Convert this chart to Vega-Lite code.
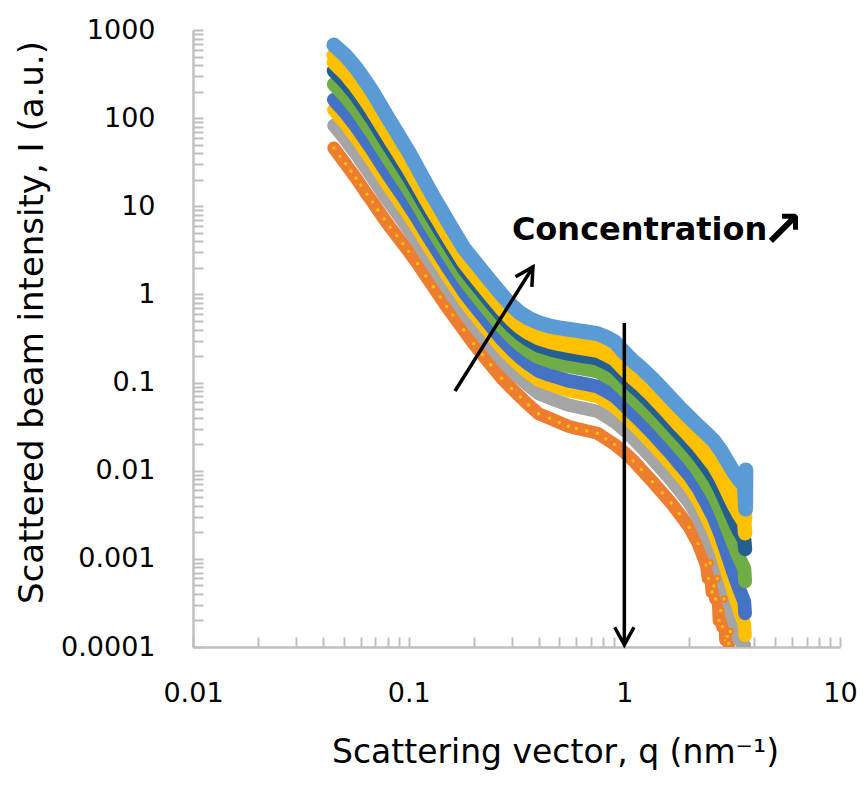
{
  "$schema": "https://vega.github.io/schema/vega-lite/v6.json",
  "width": 647,
  "height": 617,
  "autosize": {"type": "none"},
  "padding": {"left": 193, "top": 30, "right": 24, "bottom": 138},
  "background": "white",
  "config": {"view": {"stroke": null}},
  "datasets": {
    "series": [
      {"c":"c1","q":0.045,"I":45.8},{"c":"c1","q":0.048,"I":37.0},{"c":"c1","q":0.051,"I":30.3},{"c":"c1","q":0.054,"I":25.0},{"c":"c1","q":0.057,"I":20.9},{"c":"c1","q":0.06,"I":17.4},{"c":"c1","q":0.064,"I":13.7},{"c":"c1","q":0.068,"I":11.2},{"c":"c1","q":0.072,"I":9.10},{"c":"c1","q":0.077,"I":7.19},{"c":"c1","q":0.082,"I":5.80},{"c":"c1","q":0.088,"I":4.64},{"c":"c1","q":0.094,"I":3.75},{"c":"c1","q":0.1,"I":3.08},{"c":"c1","q":0.11,"I":2.23},{"c":"c1","q":0.12,"I":1.62},{"c":"c1","q":0.13,"I":1.22},{"c":"c1","q":0.14,"I":0.935},{"c":"c1","q":0.15,"I":0.728},{"c":"c1","q":0.16,"I":0.586},{"c":"c1","q":0.18,"I":0.394},{"c":"c1","q":0.2,"I":0.276},{"c":"c1","q":0.22,"I":0.207},{"c":"c1","q":0.24,"I":0.159},{"c":"c1","q":0.27,"I":0.112},{"c":"c1","q":0.3,"I":0.0859},{"c":"c1","q":0.33,"I":0.0686},{"c":"c1","q":0.36,"I":0.0558},{"c":"c1","q":0.4,"I":0.0444},{"c":"c1","q":0.45,"I":0.0393},{"c":"c1","q":0.5,"I":0.0352},{"c":"c1","q":0.55,"I":0.0319},{"c":"c1","q":0.6,"I":0.0302},{"c":"c1","q":0.67,"I":0.0284},{"c":"c1","q":0.75,"I":0.0266},{"c":"c1","q":0.82,"I":0.0231},{"c":"c1","q":0.9,"I":0.0199},{"c":"c1","q":1.0,"I":0.0162},{"c":"c1","q":1.1,"I":0.0130},{"c":"c1","q":1.2,"I":0.0103},{"c":"c1","q":1.35,"I":0.0075},{"c":"c1","q":1.5,"I":0.0056},{"c":"c1","q":1.65,"I":0.00429},{"c":"c1","q":1.8,"I":0.00325},{"c":"c1","q":2.0,"I":0.00229},{"c":"c1","q":2.2,"I":0.00149},{"c":"c1","q":2.4,"I":0.000851},{"c":"c1","q":2.45,"I":0.0006},{"c":"c1","q":2.5,"I":0.0009},{"c":"c1","q":2.55,"I":0.00042},{"c":"c1","q":2.6,"I":0.000493},{"c":"c1","q":2.65,"I":0.00035},{"c":"c1","q":2.7,"I":0.0006},{"c":"c1","q":2.75,"I":0.0002},{"c":"c1","q":2.8,"I":0.000259},{"c":"c1","q":2.85,"I":0.00017},{"c":"c1","q":2.9,"I":0.00035},{"c":"c1","q":2.95,"I":0.00012},{"c":"c1","q":3.0,"I":0.000132},{"c":"c1","q":3.05,"I":0.00011},{"c":"c1","q":3.1,"I":0.00015},
      {"c":"c2","q":0.045,"I":82.9},{"c":"c2","q":0.048,"I":67.9},{"c":"c2","q":0.051,"I":56.5},{"c":"c2","q":0.054,"I":46.8},{"c":"c2","q":0.057,"I":39.4},{"c":"c2","q":0.06,"I":32.7},{"c":"c2","q":0.064,"I":25.9},{"c":"c2","q":0.068,"I":21.0},{"c":"c2","q":0.072,"I":17.0},{"c":"c2","q":0.077,"I":13.3},{"c":"c2","q":0.082,"I":10.7},{"c":"c2","q":0.088,"I":8.41},{"c":"c2","q":0.094,"I":6.73},{"c":"c2","q":0.1,"I":5.45},{"c":"c2","q":0.11,"I":3.86},{"c":"c2","q":0.12,"I":2.76},{"c":"c2","q":0.13,"I":2.06},{"c":"c2","q":0.14,"I":1.56},{"c":"c2","q":0.15,"I":1.20},{"c":"c2","q":0.16,"I":0.956},{"c":"c2","q":0.18,"I":0.632},{"c":"c2","q":0.2,"I":0.446},{"c":"c2","q":0.22,"I":0.334},{"c":"c2","q":0.24,"I":0.257},{"c":"c2","q":0.27,"I":0.181},{"c":"c2","q":0.3,"I":0.138},{"c":"c2","q":0.33,"I":0.111},{"c":"c2","q":0.36,"I":0.0918},{"c":"c2","q":0.4,"I":0.0749},{"c":"c2","q":0.45,"I":0.0668},{"c":"c2","q":0.5,"I":0.0607},{"c":"c2","q":0.55,"I":0.0557},{"c":"c2","q":0.6,"I":0.0530},{"c":"c2","q":0.67,"I":0.0502},{"c":"c2","q":0.75,"I":0.0471},{"c":"c2","q":0.82,"I":0.0414},{"c":"c2","q":0.9,"I":0.0359},{"c":"c2","q":1.0,"I":0.0288},{"c":"c2","q":1.1,"I":0.0230},{"c":"c2","q":1.2,"I":0.0185},{"c":"c2","q":1.35,"I":0.0136},{"c":"c2","q":1.5,"I":0.0102},{"c":"c2","q":1.65,"I":0.00782},{"c":"c2","q":1.8,"I":0.0060},{"c":"c2","q":2.0,"I":0.00431},{"c":"c2","q":2.2,"I":0.00293},{"c":"c2","q":2.4,"I":0.00181},{"c":"c2","q":2.6,"I":0.00114},{"c":"c2","q":2.8,"I":0.000651},{"c":"c2","q":3.0,"I":0.000361},{"c":"c2","q":3.2,"I":0.000204},{"c":"c2","q":3.4,"I":0.000122},{"c":"c2","q":3.6,"I":0.000105},
      {"c":"c3","q":0.045,"I":124},{"c":"c3","q":0.048,"I":103},{"c":"c3","q":0.051,"I":86.4},{"c":"c3","q":0.054,"I":71.8},{"c":"c3","q":0.057,"I":60.6},{"c":"c3","q":0.06,"I":50.5},{"c":"c3","q":0.064,"I":40.0},{"c":"c3","q":0.068,"I":32.4},{"c":"c3","q":0.072,"I":26.1},{"c":"c3","q":0.077,"I":20.3},{"c":"c3","q":0.082,"I":16.1},{"c":"c3","q":0.088,"I":12.6},{"c":"c3","q":0.094,"I":10.0},{"c":"c3","q":0.1,"I":8.05},{"c":"c3","q":0.11,"I":5.61},{"c":"c3","q":0.12,"I":3.98},{"c":"c3","q":0.13,"I":2.93},{"c":"c3","q":0.14,"I":2.20},{"c":"c3","q":0.15,"I":1.69},{"c":"c3","q":0.16,"I":1.34},{"c":"c3","q":0.18,"I":0.872},{"c":"c3","q":0.2,"I":0.618},{"c":"c3","q":0.22,"I":0.463},{"c":"c3","q":0.24,"I":0.356},{"c":"c3","q":0.27,"I":0.251},{"c":"c3","q":0.3,"I":0.191},{"c":"c3","q":0.33,"I":0.154},{"c":"c3","q":0.36,"I":0.129},{"c":"c3","q":0.4,"I":0.107},{"c":"c3","q":0.45,"I":0.0960},{"c":"c3","q":0.5,"I":0.0879},{"c":"c3","q":0.55,"I":0.0815},{"c":"c3","q":0.6,"I":0.0779},{"c":"c3","q":0.67,"I":0.0738},{"c":"c3","q":0.75,"I":0.0696},{"c":"c3","q":0.82,"I":0.0617},{"c":"c3","q":0.9,"I":0.0537},{"c":"c3","q":1.0,"I":0.0426},{"c":"c3","q":1.1,"I":0.0340},{"c":"c3","q":1.2,"I":0.0275},{"c":"c3","q":1.35,"I":0.0203},{"c":"c3","q":1.5,"I":0.0153},{"c":"c3","q":1.65,"I":0.0118},{"c":"c3","q":1.8,"I":0.0091},{"c":"c3","q":2.0,"I":0.00664},{"c":"c3","q":2.2,"I":0.00465},{"c":"c3","q":2.4,"I":0.00303},{"c":"c3","q":2.6,"I":0.00200},{"c":"c3","q":2.8,"I":0.00122},{"c":"c3","q":3.0,"I":0.000717},{"c":"c3","q":3.2,"I":0.000429},{"c":"c3","q":3.4,"I":0.000272},{"c":"c3","q":3.6,"I":0.000184},{"c":"c3","q":3.63,"I":0.000136},
      {"c":"c4","q":0.045,"I":162},{"c":"c4","q":0.048,"I":135},{"c":"c4","q":0.051,"I":115},{"c":"c4","q":0.054,"I":95.5},{"c":"c4","q":0.057,"I":80.8},{"c":"c4","q":0.06,"I":67.4},{"c":"c4","q":0.064,"I":53.5},{"c":"c4","q":0.068,"I":43.1},{"c":"c4","q":0.072,"I":34.7},{"c":"c4","q":0.077,"I":26.9},{"c":"c4","q":0.082,"I":21.3},{"c":"c4","q":0.088,"I":16.5},{"c":"c4","q":0.094,"I":13.0},{"c":"c4","q":0.1,"I":10.4},{"c":"c4","q":0.11,"I":7.21},{"c":"c4","q":0.12,"I":5.06},{"c":"c4","q":0.13,"I":3.71},{"c":"c4","q":0.14,"I":2.78},{"c":"c4","q":0.15,"I":2.12},{"c":"c4","q":0.16,"I":1.67},{"c":"c4","q":0.18,"I":1.08},{"c":"c4","q":0.2,"I":0.769},{"c":"c4","q":0.22,"I":0.576},{"c":"c4","q":0.24,"I":0.443},{"c":"c4","q":0.27,"I":0.312},{"c":"c4","q":0.3,"I":0.238},{"c":"c4","q":0.33,"I":0.192},{"c":"c4","q":0.36,"I":0.162},{"c":"c4","q":0.4,"I":0.136},{"c":"c4","q":0.45,"I":0.122},{"c":"c4","q":0.5,"I":0.113},{"c":"c4","q":0.55,"I":0.105},{"c":"c4","q":0.6,"I":0.101},{"c":"c4","q":0.67,"I":0.0955},{"c":"c4","q":0.75,"I":0.0904},{"c":"c4","q":0.82,"I":0.0804},{"c":"c4","q":0.9,"I":0.0703},{"c":"c4","q":1.0,"I":0.0552},{"c":"c4","q":1.1,"I":0.0440},{"c":"c4","q":1.2,"I":0.0358},{"c":"c4","q":1.35,"I":0.0266},{"c":"c4","q":1.5,"I":0.0201},{"c":"c4","q":1.65,"I":0.0155},{"c":"c4","q":1.8,"I":0.0120},{"c":"c4","q":2.0,"I":0.00885},{"c":"c4","q":2.2,"I":0.00633},{"c":"c4","q":2.4,"I":0.00427},{"c":"c4","q":2.6,"I":0.00292},{"c":"c4","q":2.8,"I":0.00185},{"c":"c4","q":3.0,"I":0.00113},{"c":"c4","q":3.2,"I":0.000705},{"c":"c4","q":3.4,"I":0.000465},{"c":"c4","q":3.6,"I":0.000327},{"c":"c4","q":3.63,"I":0.000241},
      {"c":"c5","q":0.045,"I":243},{"c":"c5","q":0.048,"I":205},{"c":"c5","q":0.051,"I":175},{"c":"c5","q":0.054,"I":147},{"c":"c5","q":0.057,"I":124},{"c":"c5","q":0.06,"I":104},{"c":"c5","q":0.064,"I":82.5},{"c":"c5","q":0.068,"I":66.3},{"c":"c5","q":0.072,"I":53.1},{"c":"c5","q":0.077,"I":40.9},{"c":"c5","q":0.082,"I":32.2},{"c":"c5","q":0.088,"I":24.8},{"c":"c5","q":0.094,"I":19.4},{"c":"c5","q":0.1,"I":15.4},{"c":"c5","q":0.11,"I":10.5},{"c":"c5","q":0.12,"I":7.28},{"c":"c5","q":0.13,"I":5.28},{"c":"c5","q":0.14,"I":3.93},{"c":"c5","q":0.15,"I":2.99},{"c":"c5","q":0.16,"I":2.33},{"c":"c5","q":0.18,"I":1.49},{"c":"c5","q":0.2,"I":1.07},{"c":"c5","q":0.22,"I":0.798},{"c":"c5","q":0.24,"I":0.614},{"c":"c5","q":0.27,"I":0.433},{"c":"c5","q":0.3,"I":0.329},{"c":"c5","q":0.33,"I":0.266},{"c":"c5","q":0.36,"I":0.227},{"c":"c5","q":0.4,"I":0.194},{"c":"c5","q":0.45,"I":0.175},{"c":"c5","q":0.5,"I":0.163},{"c":"c5","q":0.55,"I":0.154},{"c":"c5","q":0.6,"I":0.148},{"c":"c5","q":0.67,"I":0.141},{"c":"c5","q":0.75,"I":0.134},{"c":"c5","q":0.82,"I":0.120},{"c":"c5","q":0.9,"I":0.105},{"c":"c5","q":1.0,"I":0.0817},{"c":"c5","q":1.1,"I":0.0649},{"c":"c5","q":1.2,"I":0.0533},{"c":"c5","q":1.35,"I":0.0399},{"c":"c5","q":1.5,"I":0.0301},{"c":"c5","q":1.65,"I":0.0233},{"c":"c5","q":1.8,"I":0.0183},{"c":"c5","q":2.0,"I":0.0136},{"c":"c5","q":2.2,"I":0.0100},{"c":"c5","q":2.4,"I":0.00715},{"c":"c5","q":2.6,"I":0.00516},{"c":"c5","q":2.8,"I":0.00346},{"c":"c5","q":3.0,"I":0.00225},{"c":"c5","q":3.2,"I":0.00149},{"c":"c5","q":3.4,"I":0.00104},{"c":"c5","q":3.6,"I":0.000775},{"c":"c5","q":3.63,"I":0.000557},
      {"c":"c6","q":0.045,"I":345},{"c":"c6","q":0.048,"I":293},{"c":"c6","q":0.051,"I":253},{"c":"c6","q":0.054,"I":212},{"c":"c6","q":0.057,"I":181},{"c":"c6","q":0.06,"I":151},{"c":"c6","q":0.064,"I":120},{"c":"c6","q":0.068,"I":96.3},{"c":"c6","q":0.072,"I":76.8},{"c":"c6","q":0.077,"I":58.9},{"c":"c6","q":0.082,"I":46.1},{"c":"c6","q":0.088,"I":35.3},{"c":"c6","q":0.094,"I":27.4},{"c":"c6","q":0.1,"I":21.6},{"c":"c6","q":0.11,"I":14.5},{"c":"c6","q":0.12,"I":9.97},{"c":"c6","q":0.13,"I":7.18},{"c":"c6","q":0.14,"I":5.32},{"c":"c6","q":0.15,"I":4.02},{"c":"c6","q":0.16,"I":3.11},{"c":"c6","q":0.18,"I":1.97},{"c":"c6","q":0.2,"I":1.41},{"c":"c6","q":0.22,"I":1.06},{"c":"c6","q":0.24,"I":0.815},{"c":"c6","q":0.27,"I":0.576},{"c":"c6","q":0.3,"I":0.436},{"c":"c6","q":0.33,"I":0.354},{"c":"c6","q":0.36,"I":0.305},{"c":"c6","q":0.4,"I":0.264},{"c":"c6","q":0.45,"I":0.240},{"c":"c6","q":0.5,"I":0.225},{"c":"c6","q":0.55,"I":0.214},{"c":"c6","q":0.6,"I":0.206},{"c":"c6","q":0.67,"I":0.197},{"c":"c6","q":0.75,"I":0.187},{"c":"c6","q":0.82,"I":0.169},{"c":"c6","q":0.9,"I":0.149},{"c":"c6","q":1.0,"I":0.115},{"c":"c6","q":1.1,"I":0.0909},{"c":"c6","q":1.2,"I":0.0752},{"c":"c6","q":1.35,"I":0.0567},{"c":"c6","q":1.5,"I":0.0429},{"c":"c6","q":1.65,"I":0.0333},{"c":"c6","q":1.8,"I":0.0262},{"c":"c6","q":2.0,"I":0.0198},{"c":"c6","q":2.2,"I":0.0150},{"c":"c6","q":2.4,"I":0.0112},{"c":"c6","q":2.6,"I":0.00845},{"c":"c6","q":2.8,"I":0.00596},{"c":"c6","q":3.0,"I":0.00408},{"c":"c6","q":3.2,"I":0.00283},{"c":"c6","q":3.4,"I":0.00208},{"c":"c6","q":3.6,"I":0.00164},{"c":"c6","q":3.63,"I":0.00129},
      {"c":"c7","q":0.045,"I":428},{"c":"c7","q":0.048,"I":366},{"c":"c7","q":0.051,"I":317},{"c":"c7","q":0.054,"I":267},{"c":"c7","q":0.057,"I":227},{"c":"c7","q":0.06,"I":190},{"c":"c7","q":0.064,"I":152},{"c":"c7","q":0.068,"I":121},{"c":"c7","q":0.072,"I":96.5},{"c":"c7","q":0.077,"I":73.7},{"c":"c7","q":0.082,"I":57.6},{"c":"c7","q":0.088,"I":43.8},{"c":"c7","q":0.094,"I":33.9},{"c":"c7","q":0.1,"I":26.6},{"c":"c7","q":0.11,"I":17.7},{"c":"c7","q":0.12,"I":12.1},{"c":"c7","q":0.13,"I":8.67},{"c":"c7","q":0.14,"I":6.40},{"c":"c7","q":0.15,"I":4.82},{"c":"c7","q":0.16,"I":3.72},{"c":"c7","q":0.18,"I":2.34},{"c":"c7","q":0.2,"I":1.68},{"c":"c7","q":0.22,"I":1.26},{"c":"c7","q":0.24,"I":0.970},{"c":"c7","q":0.27,"I":0.686},{"c":"c7","q":0.3,"I":0.518},{"c":"c7","q":0.33,"I":0.421},{"c":"c7","q":0.36,"I":0.366},{"c":"c7","q":0.4,"I":0.319},{"c":"c7","q":0.45,"I":0.291},{"c":"c7","q":0.5,"I":0.274},{"c":"c7","q":0.55,"I":0.262},{"c":"c7","q":0.6,"I":0.253},{"c":"c7","q":0.67,"I":0.242},{"c":"c7","q":0.75,"I":0.231},{"c":"c7","q":0.82,"I":0.209},{"c":"c7","q":0.9,"I":0.185},{"c":"c7","q":1.0,"I":0.141},{"c":"c7","q":1.1,"I":0.112},{"c":"c7","q":1.2,"I":0.0930},{"c":"c7","q":1.35,"I":0.0703},{"c":"c7","q":1.5,"I":0.0533},{"c":"c7","q":1.65,"I":0.0414},{"c":"c7","q":1.8,"I":0.0327},{"c":"c7","q":2.0,"I":0.0249},{"c":"c7","q":2.2,"I":0.0192},{"c":"c7","q":2.4,"I":0.0147},{"c":"c7","q":2.6,"I":0.0114},{"c":"c7","q":2.8,"I":0.00833},{"c":"c7","q":3.0,"I":0.00588},{"c":"c7","q":3.2,"I":0.00421},{"c":"c7","q":3.4,"I":0.0032},{"c":"c7","q":3.6,"I":0.00259},{"c":"c7","q":3.63,"I":0.00195},
      {"c":"c8","q":0.045,"I":516},{"c":"c8","q":0.048,"I":444},{"c":"c8","q":0.051,"I":386},{"c":"c8","q":0.054,"I":326},{"c":"c8","q":0.057,"I":278},{"c":"c8","q":0.06,"I":233},{"c":"c8","q":0.064,"I":186},{"c":"c8","q":0.068,"I":148},{"c":"c8","q":0.072,"I":118},{"c":"c8","q":0.077,"I":89.6},{"c":"c8","q":0.082,"I":69.9},{"c":"c8","q":0.088,"I":53.0},{"c":"c8","q":0.094,"I":40.8},{"c":"c8","q":0.1,"I":31.9},{"c":"c8","q":0.11,"I":21.1},{"c":"c8","q":0.12,"I":14.4},{"c":"c8","q":0.13,"I":10.2},{"c":"c8","q":0.14,"I":7.52},{"c":"c8","q":0.15,"I":5.65},{"c":"c8","q":0.16,"I":4.35},{"c":"c8","q":0.18,"I":2.72},{"c":"c8","q":0.2,"I":1.96},{"c":"c8","q":0.22,"I":1.47},{"c":"c8","q":0.24,"I":1.13},{"c":"c8","q":0.27,"I":0.80},{"c":"c8","q":0.3,"I":0.603},{"c":"c8","q":0.33,"I":0.491},{"c":"c8","q":0.36,"I":0.428},{"c":"c8","q":0.4,"I":0.377},{"c":"c8","q":0.45,"I":0.344},{"c":"c8","q":0.5,"I":0.326},{"c":"c8","q":0.55,"I":0.313},{"c":"c8","q":0.6,"I":0.302},{"c":"c8","q":0.67,"I":0.289},{"c":"c8","q":0.75,"I":0.277},{"c":"c8","q":0.82,"I":0.252},{"c":"c8","q":0.9,"I":0.223},{"c":"c8","q":1.0,"I":0.169},{"c":"c8","q":1.1,"I":0.134},{"c":"c8","q":1.2,"I":0.112},{"c":"c8","q":1.35,"I":0.0849},{"c":"c8","q":1.5,"I":0.0644},{"c":"c8","q":1.65,"I":0.0502},{"c":"c8","q":1.8,"I":0.0398},{"c":"c8","q":2.0,"I":0.0304},{"c":"c8","q":2.2,"I":0.0238},{"c":"c8","q":2.4,"I":0.0187},{"c":"c8","q":2.6,"I":0.0149},{"c":"c8","q":2.8,"I":0.0112},{"c":"c8","q":3.0,"I":0.00809},{"c":"c8","q":3.2,"I":0.00596},{"c":"c8","q":3.4,"I":0.00465},{"c":"c8","q":3.6,"I":0.00387},{"c":"c8","q":3.63,"I":0.00289},
      {"c":"c9","q":0.045,"I":676},{"c":"c9","q":0.048,"I":585},{"c":"c9","q":0.051,"I":512},{"c":"c9","q":0.054,"I":434},{"c":"c9","q":0.057,"I":371},{"c":"c9","q":0.06,"I":311},{"c":"c9","q":0.064,"I":248},{"c":"c9","q":0.068,"I":198},{"c":"c9","q":0.072,"I":157},{"c":"c9","q":0.077,"I":119},{"c":"c9","q":0.082,"I":92.1},{"c":"c9","q":0.088,"I":69.4},{"c":"c9","q":0.094,"I":53.2},{"c":"c9","q":0.1,"I":41.4},{"c":"c9","q":0.11,"I":27.1},{"c":"c9","q":0.12,"I":18.3},{"c":"c9","q":0.13,"I":12.9},{"c":"c9","q":0.14,"I":9.49},{"c":"c9","q":0.15,"I":7.10},{"c":"c9","q":0.16,"I":5.44},{"c":"c9","q":0.18,"I":3.37},{"c":"c9","q":0.2,"I":2.44},{"c":"c9","q":0.22,"I":1.83},{"c":"c9","q":0.24,"I":1.41},{"c":"c9","q":0.27,"I":0.995},{"c":"c9","q":0.3,"I":0.749},{"c":"c9","q":0.33,"I":0.611},{"c":"c9","q":0.36,"I":0.537},{"c":"c9","q":0.4,"I":0.478},{"c":"c9","q":0.45,"I":0.438},{"c":"c9","q":0.5,"I":0.417},{"c":"c9","q":0.55,"I":0.403},{"c":"c9","q":0.6,"I":0.391},{"c":"c9","q":0.67,"I":0.375},{"c":"c9","q":0.75,"I":0.359},{"c":"c9","q":0.82,"I":0.329},{"c":"c9","q":0.9,"I":0.292},{"c":"c9","q":1.0,"I":0.220},{"c":"c9","q":1.1,"I":0.174},{"c":"c9","q":1.2,"I":0.146},{"c":"c9","q":1.35,"I":0.111},{"c":"c9","q":1.5,"I":0.0845},{"c":"c9","q":1.65,"I":0.0659},{"c":"c9","q":1.8,"I":0.0525},{"c":"c9","q":2.0,"I":0.0406},{"c":"c9","q":2.2,"I":0.0323},{"c":"c9","q":2.4,"I":0.0264},{"c":"c9","q":2.6,"I":0.0218},{"c":"c9","q":2.8,"I":0.0170},{"c":"c9","q":3.0,"I":0.0128},{"c":"c9","q":3.2,"I":0.0098},{"c":"c9","q":3.4,"I":0.00795},{"c":"c9","q":3.6,"I":0.00688},{"c":"c9","q":3.63,"I":0.00503},{"c":"c9","q":3.65,"I":0.00368},{"c":"c9","q":3.66,"I":0.0102}
    ]
  },
  "layer": [
    {
      "data": {"name": "series"},
      "mark": {"type": "line", "strokeCap": "round", "strokeJoin": "round", "clip": true},
      "encoding": {
        "x": {
          "field": "q", "type": "quantitative", "title": "Scattering vector, q (nm⁻¹)",
          "scale": {"type": "log", "domain": [0.01, 10], "nice": false},
          "axis": {
            "values": [0.01,0.02,0.03,0.04,0.05,0.06,0.07,0.08,0.09,0.1,0.2,0.3,0.4,0.5,0.6,0.7,0.8,0.9,1,2,3,4,5,6,7,8,9,10],
            "format": "~g",
            "labelExpr": "datum.value == 0.01 || datum.value == 0.1 || datum.value == 1 || datum.value == 10 ? datum.label : ''",
            "grid": false, "tickSize": -10, "tickWidth": 2, "tickColor": "#BFBFBF",
            "domainColor": "#BFBFBF", "domainWidth": 2.5,
            "labelFont": "DejaVu Sans", "labelFontSize": 27, "labelColor": "#000000",
            "labelPadding": 43, "labelOverlap": false, "labelFlush": false, "labelBound": false,
            "titleFont": "DejaVu Sans", "titleFontSize": 33, "titleFontWeight": "normal", "titleColor": "#000000",
            "titleX": 362, "titleY": 115, "titleAlign": "center", "titleBaseline": "alphabetic"
          }
        },
        "y": {
          "field": "I", "type": "quantitative", "title": "Scattered  beam intensity, I (a.u.)",
          "scale": {"type": "log", "domain": [0.0001, 1000], "nice": false},
          "axis": {
            "values": [0.0001,0.0002,0.0003,0.0004,0.0005,0.0006,0.0007,0.0008,0.0009,0.001,0.002,0.003,0.004,0.005,0.006,0.007,0.008,0.009,0.01,0.02,0.03,0.04,0.05,0.06,0.07,0.08,0.09,0.1,0.2,0.3,0.4,0.5,0.6,0.7,0.8,0.9,1,2,3,4,5,6,7,8,9,10,20,30,40,50,60,70,80,90,100,200,300,400,500,600,700,800,900,1000],
            "format": "~g",
            "labelExpr": "datum.value == 0.0001 || datum.value == 0.001 || datum.value == 0.01 || datum.value == 0.1 || datum.value == 1 || datum.value == 10 || datum.value == 100 || datum.value == 1000 ? datum.label : ''",
            "grid": false, "tickSize": -10, "tickWidth": 2, "tickColor": "#BFBFBF",
            "domainColor": "#BFBFBF", "domainWidth": 2.5,
            "labelFont": "DejaVu Sans", "labelFontSize": 27, "labelColor": "#000000",
            "labelPadding": 48, "labelOverlap": false, "labelFlush": false, "labelBound": false,
            "titleFont": "DejaVu Sans", "titleFontSize": 34, "titleFontWeight": "normal", "titleColor": "#000000",
            "titleX": -151, "titleY": 292, "titleAlign": "center", "titleBaseline": "alphabetic", "titleAngle": 270
          }
        },
        "stroke": {"field": "c", "type": "nominal", "legend": null,
          "scale": {"domain": ["c1","c2","c3","c4","c5","c6","c7","c8","c9"], "range": ["#ED7D31","#A5A5A5","#FFC000","#4472C4","#70AD47","#255E91","#FFC000","#FFC000","#5B9BD5"]}},
        "strokeWidth": {"field": "c", "type": "nominal", "legend": null,
          "scale": {"domain": ["c1","c2","c3","c4","c5","c6","c7","c8","c9"], "range": [13, 15, 15, 15, 15, 13, 10, 10, 10]}}
      }
    },
    {
      "data": {"name": "series"},
      "transform": [{"filter": "datum.c == 'c1'"}],
      "mark": {"type": "point", "shape": "circle", "filled": true, "opacity": 1, "strokeWidth": 2, "clip": true, "fill": "#FFC000", "stroke": "#ED7D31", "size": 30},
      "encoding": {
        "x": {"field": "q", "type": "quantitative", "title": "Scattering vector, q (nm⁻¹)", "scale": {"type": "log", "domain": [0.01, 10], "nice": false}},
        "y": {"field": "I", "type": "quantitative", "title": "Scattered  beam intensity, I (a.u.)", "scale": {"type": "log", "domain": [0.0001, 1000], "nice": false}}
      }
    },
    {
      "data": {"values": [
        {"q1": 0.164, "i1": 0.0802, "q2": 0.377, "i2": 2.05},
        {"q1": 1.0, "i1": 0.474, "q2": 1.0, "i2": 0.000106}
      ]},
      "mark": {"type": "rule", "color": "#000000", "strokeWidth": 3.5},
      "encoding": {
        "x": {"field": "q1", "type": "quantitative", "title": "Scattering vector, q (nm⁻¹)", "scale": {"type": "log", "domain": [0.01, 10], "nice": false}},
        "y": {"field": "i1", "type": "quantitative", "title": "Scattered  beam intensity, I (a.u.)", "scale": {"type": "log", "domain": [0.0001, 1000], "nice": false}},
        "x2": {"field": "q2"},
        "y2": {"field": "i2"}
      }
    },
    {
      "data": {"values": [
        {"q": 0.377, "I": 2.05, "a": 32},
        {"q": 1.0, "I": 0.000106, "a": 180}
      ]},
      "mark": {"type": "point", "shape": "M-0.55,1L0,0L0.55,1", "filled": false, "opacity": 1, "stroke": "#000000", "strokeWidth": 3.5, "size": 1225, "strokeJoin": "miter"},
      "encoding": {
        "x": {"field": "q", "type": "quantitative", "title": "Scattering vector, q (nm⁻¹)", "scale": {"type": "log", "domain": [0.01, 10], "nice": false}},
        "y": {"field": "I", "type": "quantitative", "title": "Scattered  beam intensity, I (a.u.)", "scale": {"type": "log", "domain": [0.0001, 1000], "nice": false}},
        "angle": {"field": "a", "type": "quantitative", "scale": null}
      }
    },
    {
      "data": {"values": [
        {"q": 0.301, "I": 4.14, "t": "Concentration"}
      ]},
      "mark": {"type": "text", "align": "left", "baseline": "alphabetic", "font": "DejaVu Sans", "fontSize": 32, "fontWeight": "bold", "color": "#000000"},
      "encoding": {
        "x": {"field": "q", "type": "quantitative", "title": "Scattering vector, q (nm⁻¹)", "scale": {"type": "log", "domain": [0.01, 10], "nice": false}},
        "y": {"field": "I", "type": "quantitative", "title": "Scattered  beam intensity, I (a.u.)", "scale": {"type": "log", "domain": [0.0001, 1000], "nice": false}},
        "text": {"field": "t"}
      }
    },
    {
      "data": {"values": [
        {"q": 4.35, "I": 3.54, "t": "↗"}
      ]},
      "mark": {"type": "text", "align": "left", "baseline": "alphabetic", "font": "DejaVu Sans", "fontSize": 50, "fontWeight": "bold", "color": "#000000"},
      "encoding": {
        "x": {"field": "q", "type": "quantitative", "title": "Scattering vector, q (nm⁻¹)", "scale": {"type": "log", "domain": [0.01, 10], "nice": false}},
        "y": {"field": "I", "type": "quantitative", "title": "Scattered  beam intensity, I (a.u.)", "scale": {"type": "log", "domain": [0.0001, 1000], "nice": false}},
        "text": {"field": "t"}
      }
    }
  ]
}
